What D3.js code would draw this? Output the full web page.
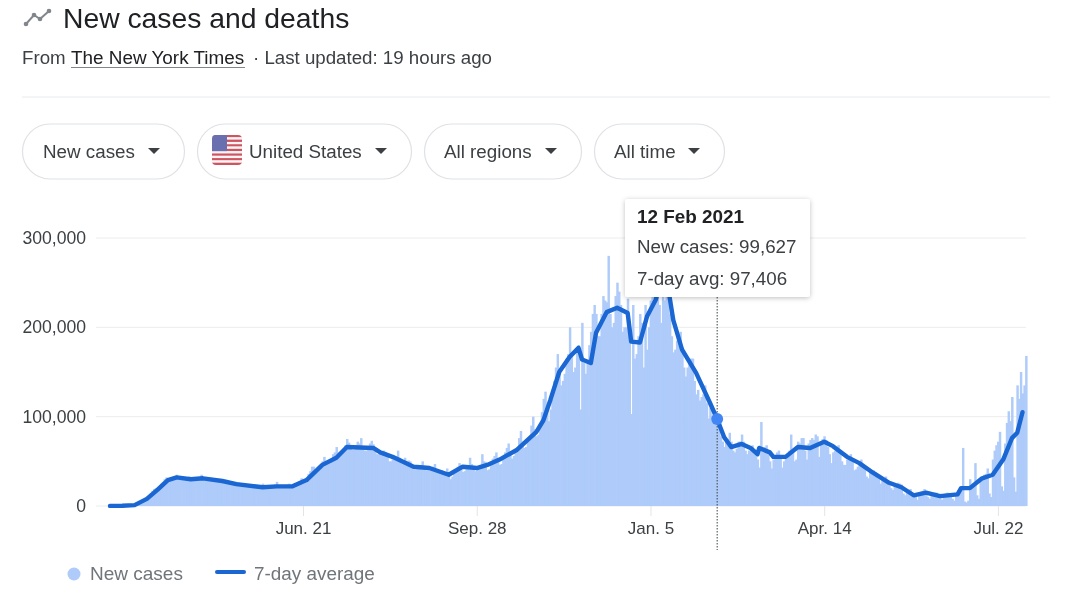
<!DOCTYPE html>
<html>
<head>
<meta charset="utf-8">
<script src="https://cdn.jsdelivr.net/npm/d3@7"></script>
<style>
  html, body { margin: 0; padding: 0; background: #fff; }
  svg { display: block; font-family: "Liberation Sans", Arial, sans-serif; filter: blur(0.45px); }
</style>
</head>
<body>
<div id="chart"></div>
<script>
const startDate = new Date(2020, 2, 3);
const endDate = new Date(2021, 7, 7);

// daily new cases, in thousands, one row per week starting on 3 Mar 2020
const newCasesK = [
  0.1, 0.1, 0.2, 0.3, 0.4, 0.5, 0.6,
  0.1, 0.2, 0.2, 0.4, 0.5, 0.5, 0.7,
  1, 1.5, 3, 4, 6, 7, 8,
  10, 11, 14, 17, 19, 20, 20,
  22, 25, 27, 30, 32, 31, 30,
  31, 31, 33, 35, 33, 31, 30,
  29, 30, 32, 33, 31, 29, 29,
  30, 30, 31, 35, 31, 29, 29,
  28, 29, 30, 31, 29, 27, 27,
  26, 27, 28, 28, 27, 25, 25,
  24, 24, 27, 26, 25, 23, 22,
  22, 23, 24, 24, 23, 22, 21,
  21, 22, 23, 25, 22, 21, 21,
  20, 21, 22, 24, 27, 22, 21,
  21, 22, 22, 24, 25, 21, 21,
  22, 23, 25, 28, 31, 27, 29,
  31, 36, 39, 44, 44, 41, 40,
  43, 46, 50, 55, 48, 47, 48,
  51, 58, 60, 66, 60, 57, 58,
  63, 68, 75, 71, 66, 63, 63,
  68, 72, 70, 76, 66, 62, 62,
  64, 70, 73, 69, 65, 58, 58,
  60, 59, 62, 60, 55, 50, 50,
  55, 54, 55, 62, 54, 48, 47,
  54, 48, 51, 50, 46, 41, 41,
  43, 45, 45, 50, 45, 40, 40,
  42, 40, 44, 47, 41, 37, 38,
  40, 39, 38, 42, 36, 30, 33,
  40, 38, 44, 48, 42, 38, 39,
  44, 46, 54, 47, 45, 39, 40,
  42, 46, 58, 50, 49, 40, 41,
  48, 53, 56, 60, 52, 46, 47,
  52, 60, 65, 70, 58, 53, 56,
  62, 64, 76, 84, 72, 65, 66,
  75, 78, 90, 100, 86, 78, 80,
  88, 105, 120, 128, 108, 95, 108,
  128, 140, 155, 170, 150, 135, 140,
  148, 165, 170, 200, 172, 150, 155,
  175, 180, 108, 205, 160, 148, 160,
  180, 195, 215, 225, 215, 190, 190,
  215, 235, 230, 228, 280, 215, 200,
  205, 235, 250, 240, 225, 195, 200,
  200, 232, 195, 103, 225, 165, 170,
  190, 215, 205, 155, 225, 175, 200,
  230, 255, 270, 275, 260, 225, 205,
  235, 230, 240, 245, 215, 190, 172,
  175, 185, 190, 195, 175, 155, 145,
  155, 160, 165, 165, 140, 125, 130,
  118, 122, 125, 135, 115, 98, 110,
  95, 100, 105, 99.627, 90, 78, 72,
  66, 72, 75, 82, 72, 62, 60,
  64, 72, 72, 80, 72, 62, 58,
  62, 66, 68, 62, 62, 52, 43,
  94, 60, 66, 68, 58, 50, 42,
  52, 56, 60, 62, 54, 43, 50,
  56, 58, 62, 80, 62, 50, 52,
  72, 70, 76, 76, 62, 52, 70,
  74, 76, 74, 80, 78, 55, 70,
  75, 78, 74, 66, 58, 48, 60,
  62, 65, 68, 60, 50, 46, 46,
  52, 56, 58, 50, 40, 41, 44,
  46, 52, 45, 42, 33, 31, 38,
  38, 40, 38, 35, 30, 25, 30,
  28, 33, 28, 26, 20, 18, 24,
  24, 26, 25, 24, 14, 12, 19,
  17, 19, 15, 14, 10, 7, 14,
  16, 17, 19, 14, 10, 8, 14,
  14, 15, 15, 13, 10, 7, 13,
  14, 15, 14, 13, 8, 6, 13,
  15, 17, 20, 65, 5, 4, 6,
  30, 22, 25, 48, 12, 8, 30,
  30, 35, 36, 42, 14, 10, 52,
  62, 68, 72, 83, 22, 17, 70,
  93, 106, 95, 122, 32, 16, 135,
  120, 150, 126, 135, 168
];

// 7-day average, read at the days (since startDate) where the line bends
const avgDays = [
  0, 7, 14, 21, 27, 33, 38, 46, 53, 64, 72, 87, 95, 104, 112, 121, 129, 135, 150, 154,
  161, 173, 182, 193, 201, 209, 215, 222, 232, 243, 247, 251, 256, 262, 267, 269, 274, 277, 283, 289,
  295, 297, 302, 306, 311, 313, 318, 321, 326, 334, 342, 346, 350, 354, 360, 365, 369, 370, 376, 378,
  385, 392, 399, 407, 412, 420, 427, 435, 444, 451, 458, 465, 473, 483, 485, 490, 497, 503, 509, 514,
  517, 520
];
const avgK = [
  0.1, 0.2, 1, 8, 18, 29, 32, 30, 31, 28, 24.5, 21, 22, 22, 29, 46, 54, 66, 65, 60,
  55, 44, 42.5, 35, 44, 42.5, 46, 52, 63, 83, 96, 119, 150, 167, 177, 164, 160, 194, 217, 222,
  216, 184, 183, 212, 231, 245, 245, 208, 175, 149, 115, 97.406, 77, 66, 69.5, 65, 58, 65, 60, 55,
  55, 66, 65, 72, 67, 55, 48, 37, 26, 21, 12, 15, 11, 13, 20, 20, 31, 35, 52, 76,
  82, 105
];

const yTicks = [0, 100000, 200000, 300000];
const xTickDates = [new Date(2020, 5, 21), new Date(2020, 8, 28), new Date(2021, 0, 5), new Date(2021, 3, 14), new Date(2021, 6, 22)];
const xTickLabels = ["Jun. 21", "Sep. 28", "Jan. 5", "Apr. 14", "Jul. 22"];
const pillLabels = ["New cases", "United States", "All regions", "All time"];
const hoverDate = new Date(2021, 1, 12);
const tooltipLines = ["12 Feb 2021", "New cases: 99,627", "7-day avg: 97,406"];
const legendLabels = ["New cases", "7-day average"];

const barColor = "#aecbfa";
const lineColor = "#1a66d2";
const dayIndex = 346;

const svg = d3.select("#chart").append("svg")
  .attr("width", 1080)
  .attr("height", 603);

const x = d3.scaleTime().domain([startDate, endDate]).range([110, 1026]);
const y = d3.scaleLinear().domain([0, 300000]).range([506, 238]);

drawHeader();
drawPills();
drawChart();
drawTooltip();
drawLegend();

function drawHeader() {
  // small trend icon next to the title
  const icon = svg.append("g");
  const iconPts = [[26, 24], [34, 15], [40, 19], [49, 11]];
  icon.append("path")
    .attr("d", d3.line()(iconPts))
    .attr("fill", "none")
    .attr("stroke", "#80868b")
    .attr("stroke-width", 2);
  icon.selectAll("circle").data(iconPts).enter().append("circle")
    .attr("cx", d => d[0]).attr("cy", d => d[1]).attr("r", 2.3).attr("fill", "#80868b");

  svg.append("text").attr("x", 63).attr("y", 28)
    .attr("font-size", 28.3).attr("fill", "#202124").text("New cases and deaths");

  svg.append("text").attr("x", 22).attr("y", 64)
    .attr("font-size", 18.7).attr("fill", "#3c4043").text("From");
  svg.append("text").attr("x", 71).attr("y", 64)
    .attr("font-size", 18.9).attr("fill", "#202124").text("The New York Times");
  svg.append("line").attr("x1", 71).attr("x2", 245).attr("y1", 67.5).attr("y2", 67.5)
    .attr("stroke", "#80868b").attr("stroke-width", 1.2);
  svg.append("text").attr("x", 253).attr("y", 64)
    .attr("font-size", 18.7).attr("fill", "#3c4043").text("· Last updated: 19 hours ago");

  svg.append("line").attr("x1", 22).attr("x2", 1050).attr("y1", 97).attr("y2", 97)
    .attr("stroke", "#e8eaed").attr("stroke-width", 1);
}

function drawPills() {
  const pillX = [22, 197, 424, 594];
  const pillW = [162, 214, 157, 130];
  const textX = [43, 249, 444, 614];
  const arrowX = [154, 381, 551, 694];

  pillLabels.forEach((label, i) => {
    svg.append("rect")
      .attr("x", pillX[i] + 0.5).attr("y", 124)
      .attr("width", pillW[i]).attr("height", 55).attr("rx", 27.5)
      .attr("fill", "#fff").attr("stroke", "#dfe1e5").attr("stroke-width", 1.2);
    svg.append("text").attr("x", textX[i]).attr("y", 157.5)
      .attr("font-size", 18.8).attr("fill", "#3c4043").text(label);
    svg.append("path")
      .attr("d", `M${arrowX[i] - 6},148 h12 l-6,6 z`)
      .attr("fill", "#3c4043");
  });

  // flag in the second pill
  const clip = svg.append("clipPath").attr("id", "flagClip");
  clip.append("rect").attr("x", 212).attr("y", 135)
    .attr("width", 30).attr("height", 30).attr("rx", 4);
  const flag = svg.append("g").attr("clip-path", "url(#flagClip)");
  const stripes = d3.range(13);
  const stripeH = 30 / 13;
  flag.selectAll("rect.stripe").data(stripes).enter().append("rect")
    .attr("class", "stripe")
    .attr("x", 212).attr("y", d => 135 + d * stripeH)
    .attr("width", 30).attr("height", stripeH + 0.1)
    .attr("fill", d => d % 2 ? "#f4f4f6" : "#cf5460");
  flag.append("rect").attr("x", 212).attr("y", 135)
    .attr("width", 15).attr("height", stripeH * 7).attr("fill", "#6a6fb0");
}

function drawChart() {
  // gridlines + y labels
  const yAxis = d3.axisLeft(y)
    .tickValues(yTicks)
    .tickFormat(d3.format(","))
    .tickSize(0)
    .tickPadding(24);
  const yG = svg.append("g")
    .attr("transform", "translate(110,0)")
    .call(yAxis);
  yG.select(".domain").remove();
  yG.selectAll("text")
    .attr("font-family", "inherit")
    .attr("font-size", 17.6)
    .attr("fill", "#3c4043");

  svg.append("g").selectAll("line").data(yTicks).enter().append("line")
    .attr("x1", 96).attr("x2", 1026)
    .attr("y1", d => y(d)).attr("y2", d => y(d))
    .attr("stroke", "#ececec").attr("stroke-width", 1);

  // x axis
  const xAxis = d3.axisBottom(x)
    .tickValues(xTickDates)
    .tickFormat((d, i) => xTickLabels[i])
    .tickSize(10)
    .tickPadding(6);
  const xG = svg.append("g")
    .attr("transform", "translate(0,506)")
    .call(xAxis);
  xG.select(".domain").remove();
  xG.selectAll("line").attr("stroke", "#e4e4e4");
  xG.selectAll("text")
    .attr("font-family", "inherit")
    .attr("font-size", 17)
    .attr("fill", "#3c4043");

  // one bar per day, slightly overlapped so the fill reads as solid
  const barW = x(d3.timeDay.offset(startDate, 1)) - x(startDate);
  svg.append("g").selectAll("rect").data(newCasesK).enter().append("rect")
    .attr("x", (d, i) => x(d3.timeDay.offset(startDate, i)) - barW / 2)
    .attr("y", d => y(d * 1000))
    .attr("width", barW + 0.7)
    .attr("height", d => y(0) - y(d * 1000))
    .attr("fill", barColor);

  // dotted hover line
  svg.append("line")
    .attr("x1", x(hoverDate)).attr("x2", x(hoverDate))
    .attr("y1", 297).attr("y2", 550)
    .attr("stroke", "#3c4043").attr("stroke-width", 1)
    .attr("stroke-dasharray", "1.5,1.5");

  const line = d3.line()
    .x(d => x(d3.timeDay.offset(startDate, d[0])))
    .y(d => y(d[1] * 1000));

  svg.append("path")
    .datum(avgDays.map((d, i) => [d, avgK[i]]))
    .attr("d", line)
    .attr("fill", "none")
    .attr("stroke", lineColor)
    .attr("stroke-width", 4.4)
    .attr("stroke-linejoin", "round")
    .attr("stroke-linecap", "round");

  svg.append("circle")
    .attr("cx", x(hoverDate))
    .attr("cy", y(avgK[avgDays.indexOf(dayIndex)] * 1000))
    .attr("r", 6)
    .attr("fill", "#4285f4");
}

function drawTooltip() {
  const defs = svg.append("defs");
  const filter = defs.append("filter").attr("id", "shadow")
    .attr("x", "-10%").attr("y", "-10%").attr("width", "120%").attr("height", "130%");
  filter.append("feDropShadow")
    .attr("dx", 0).attr("dy", 1).attr("stdDeviation", 2.5)
    .attr("flood-color", "#000").attr("flood-opacity", 0.25);

  svg.append("rect")
    .attr("x", 625).attr("y", 199)
    .attr("width", 185).attr("height", 98).attr("rx", 3)
    .attr("fill", "#fff")
    .attr("filter", "url(#shadow)");

  const lineY = [223, 253, 285];
  tooltipLines.forEach((t, i) => {
    svg.append("text")
      .attr("x", 637).attr("y", lineY[i])
      .attr("font-size", i === 0 ? 18.9 : 18.75)
      .attr("font-weight", i === 0 ? "bold" : "normal")
      .attr("fill", i === 0 ? "#202124" : "#3c4043")
      .text(t);
  });
}

function drawLegend() {
  svg.append("circle").attr("cx", 74).attr("cy", 574).attr("r", 6.5).attr("fill", barColor);
  svg.append("text").attr("x", 90).attr("y", 580)
    .attr("font-size", 19).attr("fill", "#70757a").text(legendLabels[0]);
  svg.append("line").attr("x1", 217).attr("x2", 244).attr("y1", 572).attr("y2", 572)
    .attr("stroke", lineColor).attr("stroke-width", 4).attr("stroke-linecap", "round");
  svg.append("text").attr("x", 254).attr("y", 580)
    .attr("font-size", 18.9).attr("fill", "#70757a").text(legendLabels[1]);
}
</script>
</body>
</html>
